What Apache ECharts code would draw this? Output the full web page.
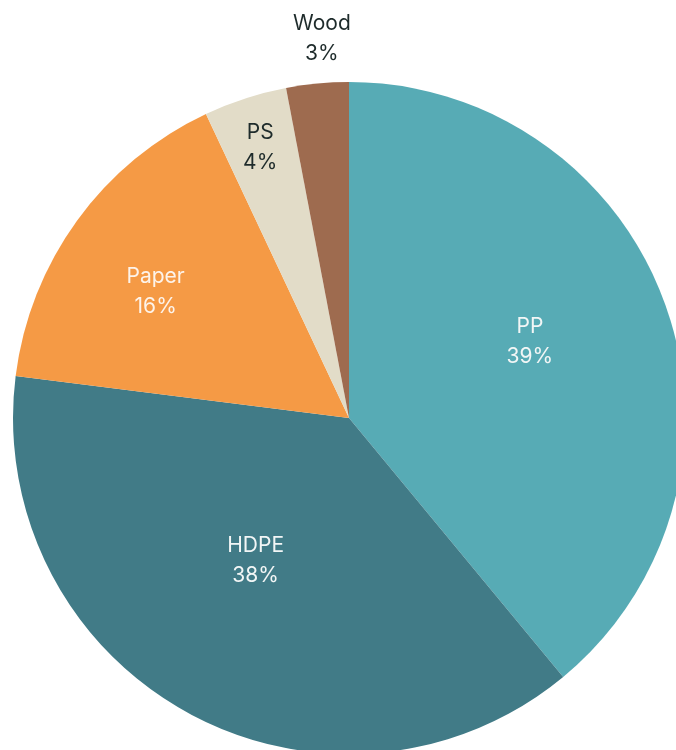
<!DOCTYPE html>
<html>
<head>
<meta charset="utf-8">
<script src="https://cdn.jsdelivr.net/npm/echarts@6/dist/echarts.min.js"></script>
<style>
  html, body { margin: 0; padding: 0; background: #fff; }
  #chart { width: 676px; height: 750px; }
</style>
</head>
<body>
<div id="chart"></div>
<script>
// data
const categories = ['PP', 'HDPE', 'Paper', 'PS', 'Wood'];
const shares = [39, 38, 16, 4, 3];

const colors = ['#57abb5', '#417b87', '#f59a45', '#e2dcc8', '#9e6b4f'];
const labelColors = ['#f2f6f6', '#f2f6f6', '#fdf3ea', '#1e2b2b', '#1e2b2b'];
// nudges from the default inside spot
const labelOffsets = [[20, -18], [-11, -7], [-55, -26], [-36, -108], [-11, -209]];

let myChart = echarts.init(document.getElementById('chart'));
let option = {
  animation: false,
  series: [
    {
      type: 'pie',
      center: [349, 418],
      radius: 336,
      startAngle: 90,
      clockwise: true,
      label: {
        position: 'inside',
        formatter: '{b}\n{c}%',
        fontFamily: 'Inter',
        fontSize: 21,
        lineHeight: 30
      },
      labelLine: { show: false },
      data: categories.map((name, i) => ({
        name: name,
        value: shares[i],
        itemStyle: { color: colors[i] },
        label: { color: labelColors[i], offset: labelOffsets[i] }
      }))
    }
  ]
};
myChart.setOption(option);
</script>
</body>
</html>
